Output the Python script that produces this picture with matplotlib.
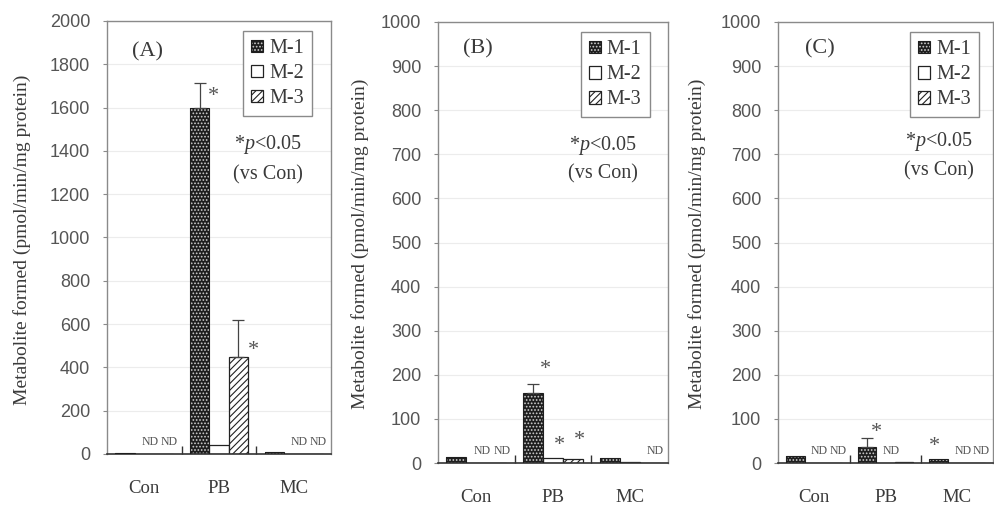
import numpy as np
import matplotlib
matplotlib.use('Agg')
import matplotlib.pyplot as plt
from matplotlib.patches import Patch
from matplotlib.legend_handler import HandlerTuple

plt.rcParams['hatch.linewidth'] = 0.8
plt.rcParams['mathtext.fontset'] = 'custom'
plt.rcParams['mathtext.rm'] = 'Liberation Serif'
plt.rcParams['mathtext.it'] = 'Liberation Serif:italic'

categories = ['Con', 'PB', 'MC']
series_names = ['M-1', 'M-2', 'M-3']
nan = np.nan  # NaN = not detected (ND)

# Panel A
a_m1 = [5, 1600, 8]
a_m2 = [nan, 40, nan]
a_m3 = [nan, 450, nan]
a_m1_err = [0, 115, 0]
a_m3_err = [0, 170, 0]
a_stars = [(1, 0, 1650), (1, 2, 480)]

# Panel B
b_m1 = [14, 158, 12]
b_m2 = [nan, 12, 3]
b_m3 = [nan, 10, nan]
b_m1_err = [0, 22, 0]
b_stars = [(1, 0, 213), (1, 1, 40), (1, 2, 50)]

# Panel C
c_m1 = [15, 36, 8]
c_m2 = [nan, nan, nan]
c_m3 = [nan, 2, nan]
c_m1_err = [0, 21, 0]
c_stars = [(1, 0, 69), (2, 0, 37)]

panels = [
    dict(tag='(A)', vals=[a_m1, a_m2, a_m3], errs=[a_m1_err, None, a_m3_err], stars=a_stars,
         ymax=2000, step=200, rect=[107, 21, 331, 454], star_dx=[0.18, 0.2],
         leg=(0.915, 0.977), ptxt=(0.72, 0.714, 0.644), tagpos=(0.183, 0.928),
         ylab=(22, 240)),
    dict(tag='(B)', vals=[b_m1, b_m2, b_m3], errs=[b_m1_err, None, None], stars=b_stars,
         ymax=1000, step=100, rect=[438, 22, 668, 463], star_dx=[0.16, 0.08, 0.09],
         leg=(0.92, 0.977), ptxt=(0.717, 0.721, 0.655), tagpos=(0.174, 0.939),
         ylab=(360, 244)),
    dict(tag='(C)', vals=[c_m1, c_m2, c_m3], errs=[c_m1_err, None, None], stars=c_stars,
         ymax=1000, step=100, rect=[778, 22, 993, 463], star_dx=[0.13, -0.05],
         leg=(0.935, 0.977), ptxt=(0.749, 0.73, 0.662), tagpos=(0.195, 0.939),
         ylab=(697, 244)),
]

W, H = 994, 508
SERIF = 'Liberation Serif'
SANS = 'Liberation Sans'
TXT = '#3a3a3a'
FRAME = '#8a8a8a'
DARK = '#1e1e1e'

fig = plt.figure(figsize=(W / 100, H / 100), dpi=100)
x = np.arange(len(categories))
bw = 0.26
offs = [-bw, 0, bw]

for p in panels:
    l, t, r, b = p['rect']
    ax = fig.add_axes([l / W, 1 - b / H, (r - l) / W, (b - t) / H])
    ax.set_xlim(-0.5, 2.5)
    ax.set_ylim(0, p['ymax'])
    ax.set_yticks(np.arange(0, p['ymax'] + 1, p['step']))
    ax.yaxis.grid(True, color='#ececec', lw=0.8)
    ax.set_axisbelow(True)
    for s in ['top', 'right', 'left']:
        ax.spines[s].set_color(FRAME)
        ax.spines[s].set_linewidth(1.0)
    ax.spines['bottom'].set_color('#333333')
    ax.spines['bottom'].set_linewidth(1.2)

    vals = [np.array(v, dtype=float) for v in p['vals']]
    xs = [x + o for o in offs]
    # M-1 dark dotted
    ax.bar(xs[0], np.nan_to_num(vals[0]), bw, color=DARK, edgecolor='#cfcfcf', hatch='.....', lw=0, zorder=2)
    ax.bar(xs[0], np.nan_to_num(vals[0]), bw, fill=False, edgecolor=DARK, lw=0.8, zorder=3)
    # M-2 white
    ax.bar(xs[1], np.nan_to_num(vals[1]), bw, color='white', edgecolor='#222222', lw=0.9, zorder=2)
    # M-3 hatched
    ax.bar(xs[2], np.nan_to_num(vals[2]), bw, color='white', edgecolor='#222222', hatch='/////', lw=0.9, zorder=2)

    for k in range(3):
        e = p['errs'][k]
        if e is None:
            continue
        e = np.array(e, dtype=float)
        m = e > 0
        ax.errorbar(xs[k][m], vals[k][m], yerr=[np.zeros(m.sum()), e[m]], fmt='none',
                    ecolor='#444444', elinewidth=0.9, capsize=4, capthick=0.9, zorder=4)

    # ND labels
    for k in range(3):
        for i in range(3):
            if np.isnan(vals[k][i]):
                ax.annotate('ND', xy=(xs[k][i], 0), xytext=(4, 4), textcoords='offset points',
                            ha='center', va='bottom', fontsize=8.5, family=SERIF, color='#555555')

    # significance stars
    for (ci, si, yv), dx in zip(p['stars'], p['star_dx']):
        ax.text(xs[si][ci] + dx, yv, '*', ha='center', va='center', fontsize=16,
                family=SERIF, color='#555555', zorder=5)

    # ticks
    ax.set_xticks(x)
    ax.set_xticklabels(categories, family=SERIF, fontsize=13.5, color=TXT)
    ax.tick_params(axis='x', which='major', length=0, pad=19)
    ax.set_xticks([0.5, 1.5], minor=True)
    ax.tick_params(axis='x', which='minor', direction='in', length=6, width=1, color='#333333')
    ax.tick_params(axis='y', direction='out', length=3, width=0.8, color=FRAME, pad=9,
                   labelsize=13, labelcolor='#555555')
    for lab in ax.get_yticklabels():
        lab.set_family(SANS)

    # legend
    h1 = (Patch(facecolor=DARK, edgecolor='#cfcfcf', hatch='.....', lw=0),
          Patch(fill=False, edgecolor=DARK, lw=0.8))
    h2 = Patch(facecolor='white', edgecolor='#222222', lw=0.9)
    h3 = Patch(facecolor='white', edgecolor='#222222', hatch='/////', lw=0.9)
    leg = ax.legend([h1, h2, h3], series_names, handler_map={tuple: HandlerTuple(ndivide=1)},
                    loc='upper right', bbox_to_anchor=p['leg'], fancybox=False,
                    edgecolor=FRAME, framealpha=1, prop={'family': SERIF, 'size': 14.5},
                    handlelength=0.6, handleheight=0.6, handletextpad=0.3,
                    labelspacing=0.3, borderpad=0.4, borderaxespad=0)
    leg.get_frame().set_linewidth(1.0)
    for tx in leg.get_texts():
        tx.set_color(TXT)

    px, py1, py2 = p['ptxt']
    ax.text(px, py1, r'*$\mathit{p}$<0.05', transform=ax.transAxes, ha='center', va='center',
            fontsize=14.5, family=SERIF, color=TXT)
    ax.text(px, py2, '(vs Con)', transform=ax.transAxes, ha='center', va='center',
            fontsize=14.5, family=SERIF, color=TXT)
    ax.text(p['tagpos'][0], p['tagpos'][1], p['tag'], transform=ax.transAxes, ha='center',
            va='center', fontsize=16, family=SERIF, color=TXT)

    lx, ly = p['ylab']
    fig.text(lx / W, 1 - ly / H, 'Metabolite formed (pmol/min/mg protein)', rotation=90,
             ha='center', va='center', fontsize=14, family=SERIF, color=TXT)

fig.savefig('out.png', dpi=100)
